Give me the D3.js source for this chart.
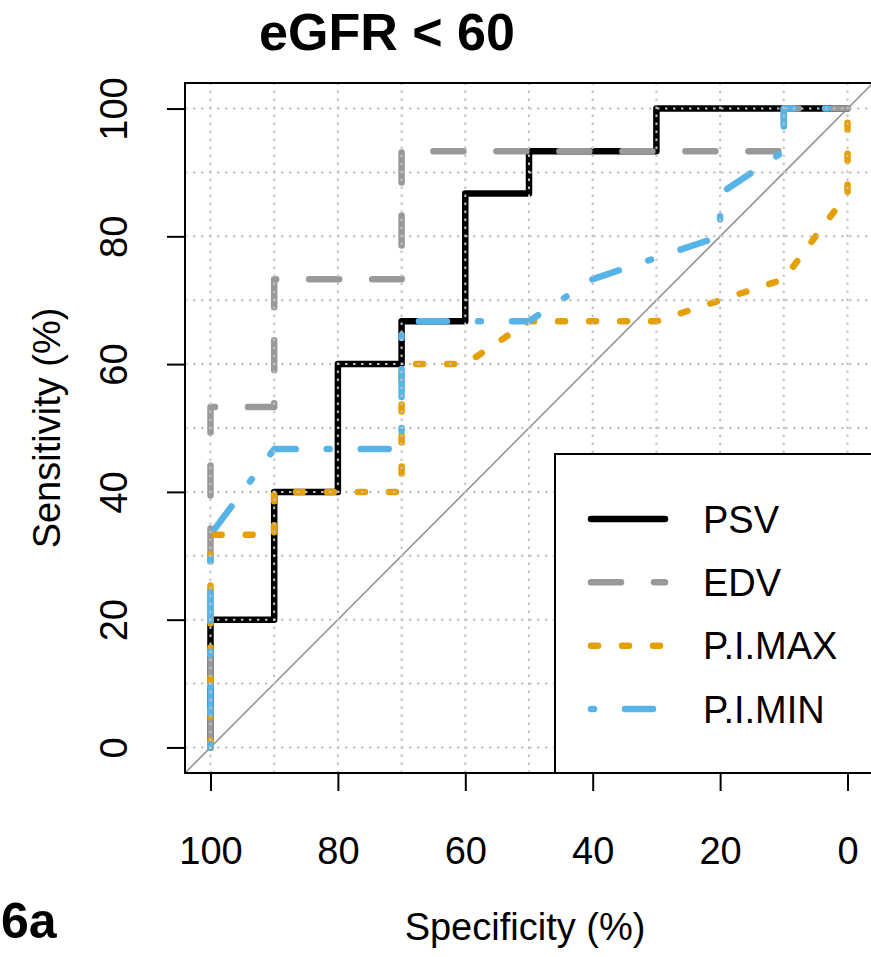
<!DOCTYPE html>
<html>
<head>
<meta charset="utf-8">
<script src="https://cdn.jsdelivr.net/npm/d3@7"></script>
<style>
  body { margin: 0; background: #fff; }
  text { font-family: "Liberation Sans", Arial, sans-serif; fill: #000; }
</style>
</head>
<body>
<svg width="871" height="957"></svg>
<script>
// ROC curves (specificity %, sensitivity %)
const psvSpec = [100, 100, 90, 90, 80, 80, 70, 70, 60, 60, 50, 50, 30, 30, 0];
const psvSens = [0, 20, 20, 40, 40, 60, 60, 66.7, 66.7, 86.7, 86.7, 93.3, 93.3, 100, 100];

const edvSpec = [100, 100, 90, 90, 70, 70, 10, 10, 0];
const edvSens = [0, 53.3, 53.3, 73.3, 73.3, 93.3, 93.3, 100, 100];

const piMaxSpec = [100, 100, 90, 90, 70, 70, 60, 50, 30, 20, 10, 0, 0];
const piMaxSens = [0, 33.3, 33.3, 40, 40, 60, 60, 66.7, 66.7, 70, 73.3, 86.7, 100];

const piMinSpec = [100, 100, 90, 70, 70, 50, 40, 20, 20, 10, 10, 0];
const piMinSens = [0, 33.3, 46.7, 46.7, 66.7, 66.7, 73.3, 80, 86.7, 93.3, 100, 100];

const seriesNames = ["PSV", "EDV", "P.I.MAX", "P.I.MIN"];
const xTicks = [100, 80, 60, 40, 20, 0];
const yTicks = [0, 20, 40, 60, 80, 100];
const gridValues = d3.range(0, 101, 10);

// styles for each series
const styles = [
  { color: "#000000", dash: null },
  { color: "#999999", dash: "30,33" },
  { color: "#E69F00", dash: "7,24" },
  { color: "#56B4E9", dash: "3,31,28,31" },
];

const series = [
  { spec: psvSpec, sens: psvSens },
  { spec: edvSpec, sens: edvSens },
  { spec: piMaxSpec, sens: piMaxSens },
  { spec: piMinSpec, sens: piMinSens },
];

const plot = { left: 185, right: 873, top: 83, bottom: 773 };

const x = d3.scaleLinear().domain([104, -4]).range([plot.left, plot.right]);
const y = d3.scaleLinear().domain([-4, 104]).range([plot.bottom, plot.top]);

const svg = d3.select("svg");

// title
svg
  .append("text")
  .attr("x", 387)
  .attr("y", 50)
  .attr("text-anchor", "middle")
  .attr("font-size", 52)
  .attr("font-weight", "bold")
  .text("eGFR < 60");

// panel tag
svg
  .append("text")
  .attr("x", 1)
  .attr("y", 938)
  .attr("font-size", 50)
  .attr("font-weight", "bold")
  .text("6a");

svg
  .append("clipPath")
  .attr("id", "plotclip")
  .append("rect")
  .attr("x", plot.left)
  .attr("y", plot.top)
  .attr("width", plot.right - plot.left)
  .attr("height", plot.bottom - plot.top);

const inner = svg.append("g").attr("clip-path", "url(#plotclip)");

// identity diagonal
inner
  .append("line")
  .attr("x1", x(104))
  .attr("y1", y(-4))
  .attr("x2", x(-4))
  .attr("y2", y(104))
  .attr("stroke", "#8c8c8c")
  .attr("stroke-width", 1.5);

// curves
const line = d3
  .line()
  .x((d) => x(d[0]))
  .y((d) => y(d[1]));

series.forEach(function (s, i) {
  const pts = s.spec.map((v, k) => [v, s.sens[k]]);
  inner
    .append("path")
    .attr("d", line(pts))
    .attr("fill", "none")
    .attr("stroke", styles[i].color)
    .attr("stroke-width", 6.5)
    .attr("stroke-linecap", "round")
    .attr("stroke-linejoin", "round")
    .attr("stroke-dasharray", styles[i].dash);
});

// dotted grid, drawn over the curves
inner
  .selectAll("line.vgrid")
  .data(gridValues)
  .join("line")
  .attr("class", "vgrid")
  .attr("x1", (d) => x(d))
  .attr("x2", (d) => x(d))
  .attr("y1", plot.bottom)
  .attr("y2", plot.top)
  .attr("stroke", "#c2c2c2")
  .attr("stroke-width", 2)
  .attr("stroke-dasharray", "2.5,5.5");

inner
  .selectAll("line.hgrid")
  .data(gridValues)
  .join("line")
  .attr("class", "hgrid")
  .attr("y1", (d) => y(d))
  .attr("y2", (d) => y(d))
  .attr("x1", plot.left)
  .attr("x2", plot.right)
  .attr("stroke", "#c2c2c2")
  .attr("stroke-width", 2)
  .attr("stroke-dasharray", "2.5,5.5");

// box
svg
  .append("rect")
  .attr("x", plot.left)
  .attr("y", plot.top)
  .attr("width", plot.right - plot.left)
  .attr("height", plot.bottom - plot.top)
  .attr("fill", "none")
  .attr("stroke", "#000")
  .attr("stroke-width", 2);

// x axis
const xAxis = svg
  .append("g")
  .attr("transform", `translate(0,${plot.bottom})`)
  .call(d3.axisBottom(x).tickValues(xTicks).tickSize(18).tickPadding(46));
xAxis.select(".domain").remove();
xAxis.selectAll("line").attr("stroke-width", 2);
xAxis
  .selectAll("text")
  .attr("font-size", 38)
  .attr("font-family", "Liberation Sans, Arial, sans-serif");

// y axis, labels parallel to the axis
const yAxis = svg
  .append("g")
  .attr("transform", `translate(${plot.left},0)`)
  .call(d3.axisLeft(y).tickValues(yTicks).tickSize(18));
yAxis.select(".domain").remove();
yAxis.selectAll("line").attr("stroke-width", 2);
yAxis
  .selectAll("text")
  .attr("x", null)
  .attr("dy", null)
  .attr("transform", "translate(-58,0) rotate(-90)")
  .attr("text-anchor", "middle")
  .attr("font-size", 38)
  .attr("font-family", "Liberation Sans, Arial, sans-serif");

// axis titles
svg
  .append("text")
  .attr("x", (plot.left + plot.right) / 2 - 4)
  .attr("y", 940)
  .attr("text-anchor", "middle")
  .attr("font-size", 38)
  .text("Specificity (%)");

svg
  .append("text")
  .attr("transform", `translate(60,${(plot.top + plot.bottom) / 2}) rotate(-90)`)
  .attr("text-anchor", "middle")
  .attr("font-size", 38)
  .text("Sensitivity (%)");

// legend
const legend = svg.append("g");
legend
  .append("rect")
  .attr("x", 555)
  .attr("y", 454)
  .attr("width", plot.right - 555)
  .attr("height", plot.bottom - 454)
  .attr("fill", "#fff")
  .attr("stroke", "#000")
  .attr("stroke-width", 2);

const legendY = d3.scaleLinear().domain([0, 3]).range([519, 709]);

legend
  .selectAll("line.key")
  .data(seriesNames)
  .join("line")
  .attr("class", "key")
  .attr("x1", 591)
  .attr("x2", 665)
  .attr("y1", (d, i) => legendY(i))
  .attr("y2", (d, i) => legendY(i))
  .attr("stroke", (d, i) => styles[i].color)
  .attr("stroke-width", 6.5)
  .attr("stroke-linecap", "round")
  .attr("stroke-dasharray", (d, i) => styles[i].dash);

legend
  .selectAll("text")
  .data(seriesNames)
  .join("text")
  .attr("x", 703)
  .attr("y", (d, i) => legendY(i) + 13.5)
  .attr("font-size", 38)
  .text((d) => d);
</script>
</body>
</html>
